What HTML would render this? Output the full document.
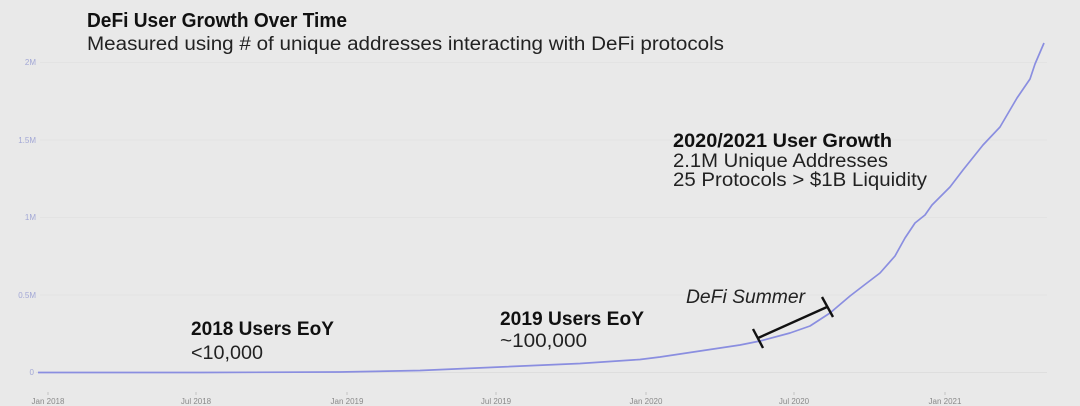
<!DOCTYPE html>
<html><head><meta charset="utf-8"><style>
html,body{margin:0;padding:0;background:#e9e9e9;}
svg{display:block;}
</style></head><body>
<svg width="1080" height="406" viewBox="0 0 1080 406" xmlns="http://www.w3.org/2000/svg" font-family="'Liberation Sans', sans-serif">
<rect width="1080" height="406" fill="#e9e9e9"/>
<g stroke="#e3e3e3" stroke-width="1">
<line x1="40" y1="62.5" x2="1047" y2="62.5"/>
<line x1="40" y1="140" x2="1047" y2="140"/>
<line x1="40" y1="217.5" x2="1047" y2="217.5"/>
<line x1="40" y1="295" x2="1047" y2="295"/>
</g>
<line x1="36" y1="372.5" x2="1047" y2="372.5" stroke="#dedede" stroke-width="1"/>
<g fill="#a3a8d6" font-size="8" text-anchor="end">
<text x="36" y="65">2M</text>
<text x="36" y="143">1.5M</text>
<text x="36" y="220">1M</text>
<text x="36" y="298">0.5M</text>
<text x="34" y="375">0</text>
</g>
<g stroke="#c4c4c4" stroke-width="1">
<line x1="48" y1="392" x2="48" y2="395"/>
<line x1="196" y1="392" x2="196" y2="395"/>
<line x1="347" y1="392" x2="347" y2="395"/>
<line x1="496" y1="392" x2="496" y2="395"/>
<line x1="646" y1="392" x2="646" y2="395"/>
<line x1="794" y1="392" x2="794" y2="395"/>
<line x1="945" y1="392" x2="945" y2="395"/>
</g>
<g fill="#8a8a8a" font-size="8" text-anchor="middle">
<text x="48" y="404">Jan 2018</text>
<text x="196" y="404">Jul 2018</text>
<text x="347" y="404">Jan 2019</text>
<text x="496" y="404">Jul 2019</text>
<text x="646" y="404">Jan 2020</text>
<text x="794" y="404">Jul 2020</text>
<text x="945" y="404">Jan 2021</text>
</g>
<polyline fill="none" stroke="#8a8ee0" stroke-width="1.7" stroke-linejoin="round" points="38,372.5 200,372.5 340,372 420,370.5 500,367 580,363.5 640,359.5 660,357 700,351 740,345 760,341 790,333 810,326 830,313 850,296 863,286 880,273 895,256 905,238 915,223 925,215 932,205 950,187 963,170 983,145 1000,127 1017,98 1030,79 1035,64 1044,43"/>
<g stroke="#111" stroke-width="2.4" stroke-linecap="butt">
<line x1="758" y1="338" x2="827" y2="307"/>
<line x1="753" y1="329" x2="763" y2="348"/>
<line x1="822" y1="297" x2="833" y2="317"/>
</g>
<g fill="#111">
<text x="87" y="27" font-size="20" font-weight="bold" textLength="260" lengthAdjust="spacingAndGlyphs">DeFi User Growth Over Time</text>
<text x="87" y="50" font-size="19" fill="#222" textLength="637" lengthAdjust="spacingAndGlyphs">Measured using # of unique addresses interacting with DeFi protocols</text>
<text x="673" y="147" font-size="19.5" font-weight="bold" textLength="219" lengthAdjust="spacingAndGlyphs">2020/2021 User Growth</text>
<text x="673" y="167" font-size="19.5" fill="#222" textLength="215" lengthAdjust="spacingAndGlyphs">2.1M Unique Addresses</text>
<text x="673" y="186" font-size="19.5" fill="#222" textLength="254" lengthAdjust="spacingAndGlyphs">25 Protocols &gt; $1B Liquidity</text>
<text x="686" y="303" font-size="19" font-style="italic" fill="#222" textLength="119" lengthAdjust="spacingAndGlyphs">DeFi Summer</text>
<text x="191" y="335" font-size="19.5" font-weight="bold" textLength="143" lengthAdjust="spacingAndGlyphs">2018 Users EoY</text>
<text x="191" y="359" font-size="19.5" fill="#222" textLength="72" lengthAdjust="spacingAndGlyphs">&lt;10,000</text>
<text x="500" y="325" font-size="19.5" font-weight="bold" textLength="144" lengthAdjust="spacingAndGlyphs">2019 Users EoY</text>
<text x="500" y="347" font-size="19.5" fill="#222" textLength="87" lengthAdjust="spacingAndGlyphs">~100,000</text>
</g>
</svg>
</body></html>
